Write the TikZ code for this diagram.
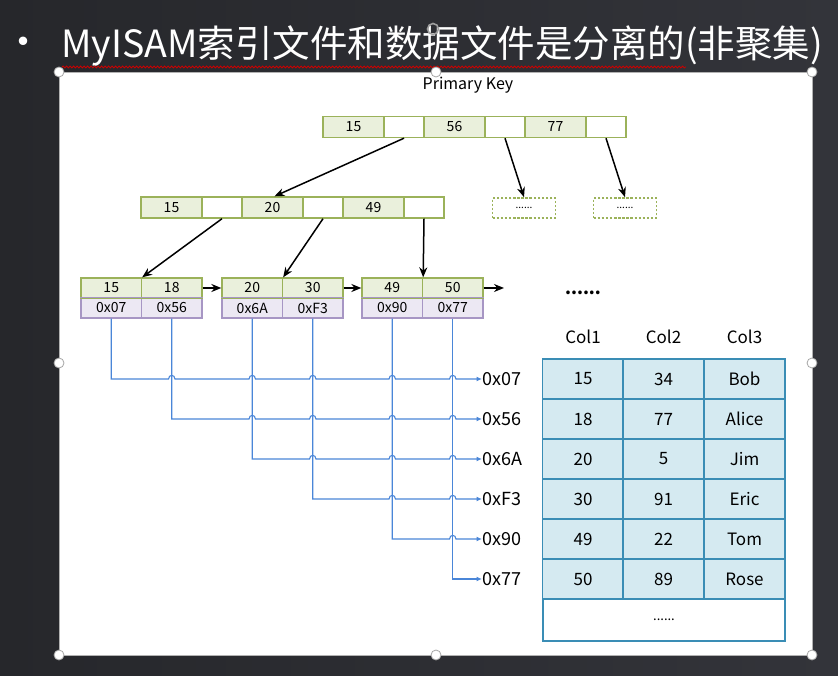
\documentclass[tikz,border=0pt]{standalone}
\usepackage{fontspec}
\setmainfont{Noto Sans CJK SC}
\usetikzlibrary{arrows.meta,decorations.pathmorphing}
\definecolor{bgdark}{HTML}{26272B}
\definecolor{bglight}{HTML}{33343A}
\definecolor{kgreen}{HTML}{9BB25A}
\definecolor{kfill}{HTML}{EAF0DC}
\definecolor{lpurple}{HTML}{A796C4}
\definecolor{lpfill}{HTML}{ECE8F3}
\definecolor{lblue}{HTML}{4A86D8}
\definecolor{tblue}{HTML}{3A8DB5}
\definecolor{tfill}{HTML}{D5EAF1}
\newcommand{\hop}[2]{-- (#1-3.2,#2) .. controls (#1-3.2,#2-4.8) and (#1+3.2,#2-4.8) .. (#1+3.2,#2)}
\begin{document}
\begin{tikzpicture}[x=1pt,y=-1pt,
  key/.style={draw=kgreen, fill=kfill, line width=1.4pt, minimum width=61pt, minimum height=21pt, inner sep=0pt, font=\fontsize{14}{14}\selectfont},
  ptr/.style={key, fill=white, minimum width=40pt},
  lk/.style={draw=kgreen, fill=kfill, line width=1.3pt, minimum width=60.5pt, minimum height=20pt, inner sep=0pt, font=\fontsize{14}{14}\selectfont},
  lp/.style={lk, draw=lpurple, fill=lpfill},
  morebox/.style={draw=kgreen, line width=1.6pt, dash pattern=on 2.5pt off 1.6pt, minimum width=63pt, minimum height=20pt, inner sep=0pt, font=\fontsize{10}{10}\selectfont},
  tarr/.style={-{Stealth[length=10pt,width=8pt]}, line width=1.5pt, black},
  blink/.style={draw=lblue, line width=1.1pt, -{Latex[length=5.5pt,width=5pt]}},
  plabel/.style={anchor=west, inner sep=0.6pt, font=\fontsize{18}{18}\selectfont},
  tcell/.style={draw=tblue, fill=tfill, line width=1.5pt, minimum width=81pt, minimum height=40pt, inner sep=0pt, font=\fontsize{17}{17}\selectfont},
  thead/.style={inner sep=0pt, font=\fontsize{17}{17}\selectfont},
  handle/.style={circle, fill=white, draw=gray!70, line width=0.8pt, minimum size=10pt, inner sep=0pt}
]
\useasboundingbox (0,0) rectangle (838,676);
\shade[left color=bgdark, right color=bglight] (0,0) rectangle (838,676);
% slide picture area
\fill[white] (59,72) rectangle (812,655);
\draw[gray!60, line width=0.8pt] (59,72) rectangle (812,655);
% title
\node[text=white, font=\fontsize{40}{40}\selectfont, inner sep=0pt] (bul) at (23,47) {•};
\node[text=white, anchor=west, inner sep=0pt, font=\fontsize{37.5}{37.5}\selectfont] (title) at (61,46) {MyISAM索引文件和数据文件是分离的(非聚集)};
\draw[red!80!black, line width=0.8pt, decorate, decoration={snake, amplitude=1pt, segment length=3.5pt}] (62,67) -- (686,67);
\draw[gray!75, line width=1.6pt] (433,29) circle (5.5);
% handles
\foreach \n/\p in {h1/{(59,72)}, h2/{(436,72)}, h3/{(812,72)}, h4/{(59,363)}, h5/{(812,363)}, h6/{(59,655)}, h7/{(436,655)}, h8/{(812,655)}}
  \node[handle] (\n) at \p {};
% Primary key
\node[font=\fontsize{16}{16}\selectfont, inner sep=0pt] (pk) at (468,85) {Primary Key};
% root
\node[key] (r1) at (353.5,127) {15};
\node[ptr] (r2) at (404,127) {};
\node[key] (r3) at (454.5,127) {56};
\node[ptr] (r4) at (505,127) {};
\node[key] (r5) at (555.5,127) {77};
\node[ptr] (r6) at (606,127) {};
% level 2
\node[key] (m1) at (171.5,207.5) {15};
\node[ptr] (m2) at (222,207.5) {};
\node[key] (m3) at (272.5,207.5) {20};
\node[ptr] (m4) at (323,207.5) {};
\node[key] (m5) at (373.5,207.5) {49};
\node[ptr] (m6) at (424,207.5) {};
% more boxes
\node[morebox] (x1) at (524,208) {......};
\node[morebox] (x2) at (625,208) {......};
% leaves
\node[lk] (a1) at (111.25,288) {15};
\node[lk] (a2) at (171.75,288) {18};
\node[lp] (a3) at (111.25,308) {0x07};
\node[lp] (a4) at (171.75,308) {0x56};
\node[lk] (b1) at (252.25,288) {20};
\node[lk] (b2) at (312.75,288) {30};
\node[lp] (b3) at (252.25,308) {0x6A};
\node[lp] (b4) at (312.75,308) {0xF3};
\node[lk] (c1) at (392.25,288) {49};
\node[lk] (c2) at (452.75,288) {50};
\node[lp] (c3) at (392.25,308) {0x90};
\node[lp] (c4) at (452.75,308) {0x77};
\draw[kgreen, line width=1.3pt] (a1.south west) -- (a2.south east);
\draw[kgreen, line width=1.3pt] (b1.south west) -- (b2.south east);
\draw[kgreen, line width=1.3pt] (c1.south west) -- (c2.south east);
\coordinate (nx) at (504,288);
\node[font=\fontsize{17}{17}\selectfont\bfseries, inner sep=0pt] (dots) at (583,293) {......};
% tree arrows
\draw[tarr] (r2.south) -- ([xshift=2pt]m3.north);
\draw[tarr] (r4.south) -- (x1.north);
\draw[tarr] (r6.south) -- (x2.north);
\draw[tarr] (m2.south) -- (a1.north east);
\draw[tarr] (m4.south) -- (b1.north east);
\draw[tarr] (m6.south) -- (c1.north east);
\draw[tarr] (a2.east) -- (b1.west);
\draw[tarr] (b2.east) -- (c1.west);
\draw[tarr] (c2.east) -- (nx);
% pointer labels
\node[plabel] (t1) at (482,379) {0x07};
\node[plabel] (t2) at (482,419) {0x56};
\node[plabel] (t3) at (482,459) {0x6A};
\node[plabel] (t4) at (482,499) {0xF3};
\node[plabel] (t5) at (482,539) {0x90};
\node[plabel] (t6) at (482,579) {0x77};
% blue links with hop-overs
\draw[blink] (a3.south) -- (a3.south |- t1.west) \hop{171.75}{379}\hop{252.25}{379}\hop{312.75}{379}\hop{392.25}{379}\hop{452.75}{379} -- (t1.west);
\draw[blink] (a4.south) -- (a4.south |- t2.west) \hop{252.25}{419}\hop{312.75}{419}\hop{392.25}{419}\hop{452.75}{419} -- (t2.west);
\draw[blink] (b3.south) -- (b3.south |- t3.west) \hop{312.75}{459}\hop{392.25}{459}\hop{452.75}{459} -- (t3.west);
\draw[blink] (b4.south) -- (b4.south |- t4.west) \hop{392.25}{499}\hop{452.75}{499} -- (t4.west);
\draw[blink] (c3.south) -- (c3.south |- t5.west) \hop{452.75}{539} -- (t5.west);
\draw[blink] (c4.south) -- (c4.south |- t6.west) -- (t6.west);
% table
\node[thead] (hc1) at (583,337) {Col1};
\node[thead] (hc2) at (663.5,337) {Col2};
\node[thead] (hc3) at (744.5,337) {Col3};
\foreach \r/\y/\p/\q/\s in {1/379/15/34/Bob, 2/419/18/77/Alice, 3/459/20/5/Jim, 4/499/30/91/Eric, 5/539/49/22/Tom, 6/579/50/89/Rose} {
  \node[tcell] (d\r1) at (583,\y) {\p};
  \node[tcell] (d\r2) at (663.5,\y) {\q};
  \node[tcell] (d\r3) at (744.5,\y) {\s};
}
\node[tcell, fill=white, minimum width=242pt, minimum height=42pt, font=\fontsize{13}{13}\selectfont] (dlast) at (664,620) {......};
\end{tikzpicture}
\end{document}
